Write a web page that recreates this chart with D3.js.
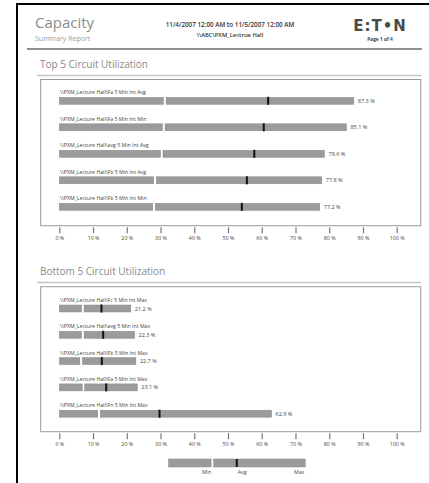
<!DOCTYPE html>
<html>
<head>
<meta charset="utf-8">
<script src="https://cdn.jsdelivr.net/npm/d3@7"></script>
<style>
  body { margin: 0; background: #fff; }
  svg { display: block; font-family: "Open Sans", "Liberation Sans", sans-serif; }
</style>
</head>
<body>
<svg id="report" width="429" height="483"></svg>
<script>
// top 5 circuits
const topLabels = [
  '\\\\PXM_Lecture Hall\\Fa 5 Min Int Avg',
  '\\\\PXM_Lecture Hall\\Fa 5 Min Int Min',
  '\\\\PXM_Lecture Hall\\avg 5 Min Int Avg',
  '\\\\PXM_Lecture Hall\\Fb 5 Min Int Avg',
  '\\\\PXM_Lecture Hall\\Fb 5 Min Int Min'
];
const topMin = [30.9, 30.6, 30.0, 28.0, 27.7];
const topAvg = [61.9, 60.6, 57.8, 55.6, 54.1];
const topMax = [87.3, 85.1, 78.6, 77.8, 77.2];

// bottom 5 circuits
const bottomLabels = [
  '\\\\PXM_Lecture Hall\\Fc 5 Min Int Max',
  '\\\\PXM_Lecture Hall\\avg 5 Min Int Max',
  '\\\\PXM_Lecture Hall\\Fb 5 Min Int Max',
  '\\\\PXM_Lecture Hall\\Fa 5 Min Int Max',
  '\\\\PXM_Lecture Hall\\Fn 5 Min Int Max'
];
const bottomMin = [6.6, 6.6, 6.1, 6.8, 11.4];
const bottomAvg = [12.5, 13.0, 12.6, 13.9, 29.7];
const bottomMax = [21.2, 22.3, 22.7, 23.1, 62.9];

const tickValues = [0, 10, 20, 30, 40, 50, 60, 70, 80, 90, 100];

// legend sample bar (in axis units)
const legendStart = 32.4, legendMin = 45.0, legendAvg = 52.6, legendMax = 72.9;

const svg = d3.select('#report');
const x = d3.scaleLinear().domain([0, 100]).range([59.3, 396.7]);
const barFill = '#9b9b9b', barStroke = '#8a8a8a';

// page frame
svg.append('path')
  .attr('d', 'M17,483 V4 H429')
  .attr('fill', 'none').attr('stroke', '#000').attr('stroke-width', 2);

// header
svg.append('text').attr('x', 35).attr('y', 28)
  .attr('font-size', 15).attr('fill', '#8c8c8c').text('Capacity');
svg.append('text').attr('x', 35).attr('y', 41)
  .attr('font-size', 7).attr('fill', '#9a9a9a').text('Summary Report');
svg.append('text').attr('x', 230).attr('y', 27).attr('text-anchor', 'middle')
  .attr('font-size', 6.3).attr('fill', '#333').attr('font-weight', 600)
  .text('11/4/2007 12:00 AM to 11/5/2007 12:00 AM');
svg.append('text').attr('x', 230).attr('y', 37).attr('text-anchor', 'middle')
  .attr('font-size', 5.8).attr('fill', '#333').attr('font-weight', 600)
  .text('\\\\ABC\\PXM_Lectrue Hall');
svg.append('text').attr('x', 380).attr('y', 31).attr('text-anchor', 'middle')
  .attr('font-size', 15).attr('font-weight', 900).attr('fill', '#4a4a4a')
  .attr('font-family', '"DejaVu Sans", sans-serif').attr('letter-spacing', 1)
  .text('E:T•N');
svg.append('text').attr('x', 380).attr('y', 41).attr('text-anchor', 'middle')
  .attr('font-size', 4.8).attr('font-weight', 700).attr('fill', '#444')
  .text('Page 1 of 4');
svg.append('line').attr('x1', 27).attr('x2', 422).attr('y1', 49).attr('y2', 49)
  .attr('stroke', '#8f8f8f').attr('stroke-width', 2);

function drawSection(cfg) {
  const g = svg.append('g');
  g.append('text').attr('x', 40).attr('y', cfg.titleY)
    .attr('font-size', 10).attr('fill', '#8a8a8a').text(cfg.title);
  g.append('line').attr('x1', 37).attr('x2', 421).attr('y1', cfg.titleY + 7.5).attr('y2', cfg.titleY + 7.5)
    .attr('stroke', '#c4c4c4').attr('stroke-width', 1.5);
  g.append('rect').attr('x', 40.7).attr('y', cfg.boxTop)
    .attr('width', 380).attr('height', cfg.boxBottom - cfg.boxTop)
    .attr('fill', 'none').attr('stroke', '#9a9a9a').attr('stroke-width', 1);

  const rows = cfg.labels.map((label, i) => ({
    label, min: cfg.min[i], avg: cfg.avg[i], max: cfg.max[i]
  }));
  const y = d3.scaleBand().domain(d3.range(rows.length))
    .range([cfg.firstBar, cfg.firstBar + cfg.step * rows.length]);

  const row = g.selectAll('g.row').data(rows).enter().append('g')
    .attr('class', 'row')
    .attr('transform', (d, i) => `translate(0,${y(i)})`);
  row.append('text').attr('x', 60).attr('y', -3)
    .attr('font-size', 5.2).attr('fill', '#444').text(d => d.label);
  row.append('rect').attr('x', x(0)).attr('y', 0)
    .attr('width', d => x(d.min) - x(0)).attr('height', 7)
    .attr('fill', barFill).attr('stroke', barStroke).attr('stroke-width', 0.5);
  row.append('rect').attr('x', d => x(d.min) + 2.5).attr('y', 0)
    .attr('width', d => x(d.max) - x(d.min) - 2.5).attr('height', 7)
    .attr('fill', barFill).attr('stroke', barStroke).attr('stroke-width', 0.5);
  row.append('rect').attr('x', d => x(d.avg) - 1).attr('y', -0.5)
    .attr('width', 2).attr('height', 8).attr('fill', '#111');
  row.append('text').attr('x', d => x(d.max) + 4).attr('y', 5.5)
    .attr('font-size', 5.5).attr('fill', '#444').text(d => d.max.toFixed(1) + ' %');

  const axis = d3.axisBottom(x).tickValues(tickValues)
    .tickFormat(d => d + ' %').tickSize(6).tickPadding(3);
  const ax = g.append('g').attr('transform', `translate(0,${cfg.boxBottom + 1.5})`).call(axis);
  ax.select('.domain').remove();
  ax.selectAll('.tick line').attr('stroke', '#777').attr('stroke-width', 1.2);
  ax.selectAll('.tick text').attr('font-size', 5.3).attr('fill', '#444')
    .attr('font-family', '"Open Sans", sans-serif');
}

drawSection({
  title: 'Top 5 Circuit Utilization', titleY: 68,
  boxTop: 79.5, boxBottom: 225.7, firstBar: 97.3, step: 26.5,
  labels: topLabels, min: topMin, avg: topAvg, max: topMax
});
drawSection({
  title: 'Bottom 5 Circuit Utilization', titleY: 275,
  boxTop: 286.7, boxBottom: 431.7, firstBar: 305, step: 26.3,
  labels: bottomLabels, min: bottomMin, avg: bottomAvg, max: bottomMax
});

// legend
const lg = svg.append('g').attr('transform', 'translate(0,459)');
lg.append('rect').attr('x', x(legendStart)).attr('y', 0)
  .attr('width', x(legendMin) - x(legendStart)).attr('height', 8)
  .attr('fill', barFill).attr('stroke', barStroke).attr('stroke-width', 0.5);
lg.append('rect').attr('x', x(legendMin) + 2.5).attr('y', 0)
  .attr('width', x(legendMax) - x(legendMin) - 2.5).attr('height', 8)
  .attr('fill', barFill).attr('stroke', barStroke).attr('stroke-width', 0.5);
lg.append('rect').attr('x', x(legendAvg) - 1).attr('y', 0)
  .attr('width', 2).attr('height', 8).attr('fill', '#111');
lg.append('text').attr('x', x(legendMin)).attr('y', 15).attr('text-anchor', 'end')
  .attr('font-size', 5.2).attr('fill', '#444').text('Min');
lg.append('text').attr('x', x(legendAvg) + 1).attr('y', 15)
  .attr('font-size', 5.2).attr('fill', '#444').text('Avg');
lg.append('text').attr('x', x(legendMax) - 1).attr('y', 15).attr('text-anchor', 'end')
  .attr('font-size', 5.2).attr('fill', '#444').text('Max');
</script>
</body>
</html>
